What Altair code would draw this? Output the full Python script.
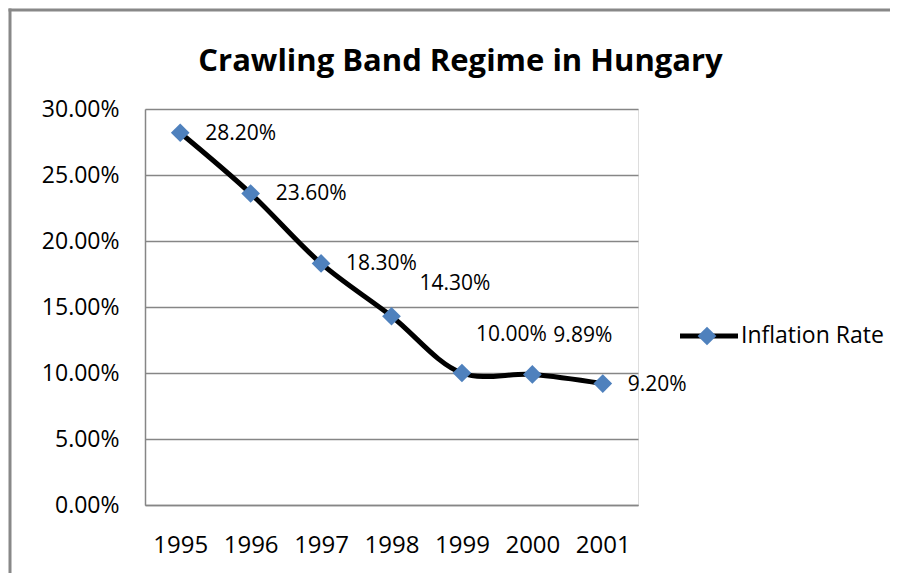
import altair as alt
import pandas as pd

years = ["1995", "1996", "1997", "1998", "1999", "2000", "2001"]
inflation = [0.282, 0.236, 0.183, 0.143, 0.100, 0.0989, 0.092]
labels = ["28.20%", "23.60%", "18.30%", "14.30%", "10.00%", "9.89%", "9.20%"]
series_name = ["Inflation Rate"]
title_text = "Crawling Band Regime in Hungary"
y_ticks = [0.0, 0.05, 0.10, 0.15, 0.20, 0.25, 0.30]

right_years = ["1995", "1996", "1997", "2001"]
upper_year = ["1998"]
upper_a = ["1999"]
upper_b = ["2000"]

df = pd.DataFrame({"Year": years, "Rate": inflation, "Label": labels})
legend_df = pd.DataFrame({"Series": series_name})

FONT = "Open Sans"
BLUE = "#4F81BD"
GRID = "#868686"

x_enc = alt.X("Year:N", sort=years, title=None,
              scale=alt.Scale(paddingInner=0, paddingOuter=0),
              axis=alt.Axis(labelAngle=0, labelFont=FONT, labelFontSize=24,
                            labelColor="#000000", labelPadding=28, ticks=False,
                            domain=True, domainColor=GRID, domainWidth=1.5, grid=False))
y_enc = alt.Y("Rate:Q", title=None,
              scale=alt.Scale(domain=[0, 0.3], nice=False),
              axis=alt.Axis(values=y_ticks, format=".2%", labelFont=FONT,
                            labelFontSize=23, labelColor="#000000", labelPadding=26,
                            ticks=False, domain=True, domainColor=GRID, domainWidth=1.5,
                            grid=True, gridColor=GRID, gridWidth=1.5))

base = alt.Chart(df)

line = base.mark_line(color="black", strokeWidth=5, interpolate="catmull-rom").encode(
    x=x_enc, y=y_enc)
points = base.mark_point(shape="diamond", filled=True, color=BLUE, size=350,
                         opacity=1).encode(x="Year:N", y="Rate:Q")

txt_style = dict(font=FONT, fontSize=21, color="#000000", align="left", baseline="middle")


def label_layer(sel, dx, dy):
    return base.transform_filter(
        alt.FieldOneOfPredicate(field="Year", oneOf=sel)
    ).mark_text(dx=dx, dy=dy, **txt_style).encode(x="Year:N", y="Rate:Q", text="Label:N")


lab_right = label_layer(right_years, 25, 1)
lab_up1 = label_layer(upper_year, 28, -32)
lab_up2 = label_layer(upper_a, 14, -38)
lab_up3 = label_layer(upper_b, 21, -38)

lg = alt.Chart(legend_df)
leg_line = lg.mark_rule(color="black", strokeWidth=5).encode(
    x=alt.value(535), x2=alt.value(593), y=alt.value(227), y2=alt.value(227))
leg_pt = lg.mark_point(shape="diamond", filled=True, color=BLUE, size=350, opacity=1).encode(
    x=alt.value(562), y=alt.value(227))
leg_txt = lg.mark_text(font=FONT, fontSize=23, color="#000000", align="left",
                       baseline="middle").encode(
    x=alt.value(596), y=alt.value(227), text="Series:N")

frame_top = lg.mark_rect(color="#888888", strokeWidth=0).encode(
    x=alt.value(-136.5), x2=alt.value(745), y=alt.value(-100.5), y2=alt.value(-97.5))
frame_left = lg.mark_rect(color="#888888", strokeWidth=0).encode(
    x=alt.value(-136.5), x2=alt.value(-133.5), y=alt.value(-100.5), y2=alt.value(520))

chart = alt.layer(frame_top, frame_left, line, points, lab_right, lab_up1, lab_up2, lab_up3,
                  leg_line, leg_pt, leg_txt).properties(
    width=493, height=396,
    title=alt.TitleParams(title_text, font=FONT, fontSize=31, fontWeight="bold",
                          color="#000000", anchor="middle", dx=69, offset=-69),
    autosize=alt.AutoSizeParams(type="none"),
    padding={"left": 137, "top": 101, "right": 252, "bottom": 68},
).configure_view(stroke=None).configure(background="white")

chart.save("out.html", embed_options={"renderer": "svg", "actions": False})
